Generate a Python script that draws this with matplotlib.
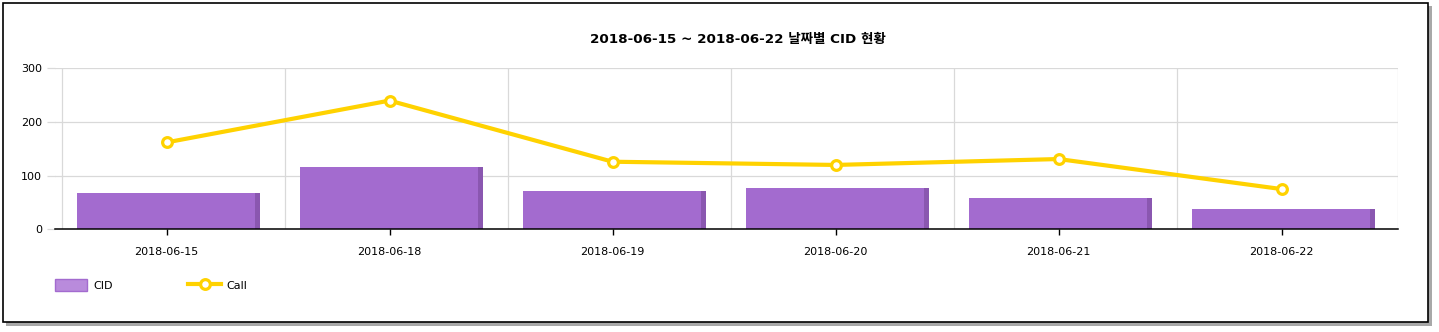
import numpy as np
import matplotlib.pyplot as plt
from matplotlib import patches
from matplotlib.lines import Line2D

plt.rcParams['font.family'] = ['DejaVu Sans', 'Noto Sans CJK KR']

# 날짜별 CID / Call 건수
dates = ['2018-06-15', '2018-06-18', '2018-06-19', '2018-06-20', '2018-06-21', '2018-06-22']
cid = [68, 116, 72, 77, 58, 38]
call = [162, 240, 126, 120, 131, 75]
title = '2018-06-15 ~ 2018-06-22 날짜별 CID 현황'

W, H = 1439, 332
fig = plt.figure(figsize=(W / 100, H / 100), dpi=100)

# 바깥 테두리 + 그림자
fig.patches.append(patches.Rectangle((6 / W, 6 / H), 1426 / W, 320 / H, transform=fig.transFigure,
                                     facecolor='#a8a8a8', edgecolor='none', zorder=0))
fig.patches.append(patches.Rectangle((3 / W, (H - 322) / H), 1425 / W, 319 / H, transform=fig.transFigure,
                                     facecolor='white', edgecolor='black', linewidth=1.2, zorder=1))

ax = fig.add_axes([55 / W, (H - 229.3) / H, 1343 / W, 160.9 / H])
ax.set_zorder(2)
ax.patch.set_alpha(0)

x = np.arange(len(dates))
ax.bar(x + 0.008, cid, width=0.822, color='#a36bcf', zorder=2)
ax.bar(x + 0.408, cid, width=0.022, color='#8a57b0', zorder=2.1)
ax.plot(x, call, color='#ffd200', linewidth=3, marker='o', markersize=7,
        markerfacecolor='white', markeredgecolor='#ffd200', markeredgewidth=2.3, zorder=3)

ax.set_xlim(-0.5, 5.522)
ax.set_ylim(0, 300)
ax.set_yticks([0, 100, 200, 300])
ax.set_xticks(x)
ax.set_xticklabels(dates)

# 세로 격자선 (카테고리 경계)
for gx in list(np.arange(6) - 0.47) + [5.52]:
    ax.axvline(gx, color='#d9d9d9', linewidth=0.9, zorder=1)
ax.grid(axis='y', color='#d9d9d9', linewidth=0.9, zorder=1)
ax.set_axisbelow(True)

for s in ['top', 'right', 'left']:
    ax.spines[s].set_visible(False)
ax.spines['bottom'].set_color('black')
ax.spines['bottom'].set_linewidth(1.1)
ax.spines['bottom'].set_zorder(4)

ax.tick_params(axis='x', length=4, width=1, color='black', pad=9, labelsize=8)
ax.tick_params(axis='y', length=6, width=0.9, color='#d9d9d9', pad=3.5, labelsize=8)

fig.text(738 / W, (H - 39) / H, title, ha='center', va='center', fontsize=9.7, fontweight='bold')

handles = [patches.Patch(facecolor='#b98bdc', edgecolor='#a36bcf', linewidth=1),
           Line2D([0], [0], color='#ffd200', linewidth=3, marker='o', markersize=7,
                  markerfacecolor='white', markeredgecolor='#ffd200', markeredgewidth=2.3)]
fig.legend(handles, ['CID', 'Call'], loc='center left', bbox_to_anchor=(55 / W, (H - 285) / H),
           ncol=2, frameon=False, fontsize=8, borderpad=0, borderaxespad=0,
           handlelength=2.9, handleheight=1.35, handletextpad=0.55, columnspacing=6.8)

fig.savefig('out.png', dpi=100)
